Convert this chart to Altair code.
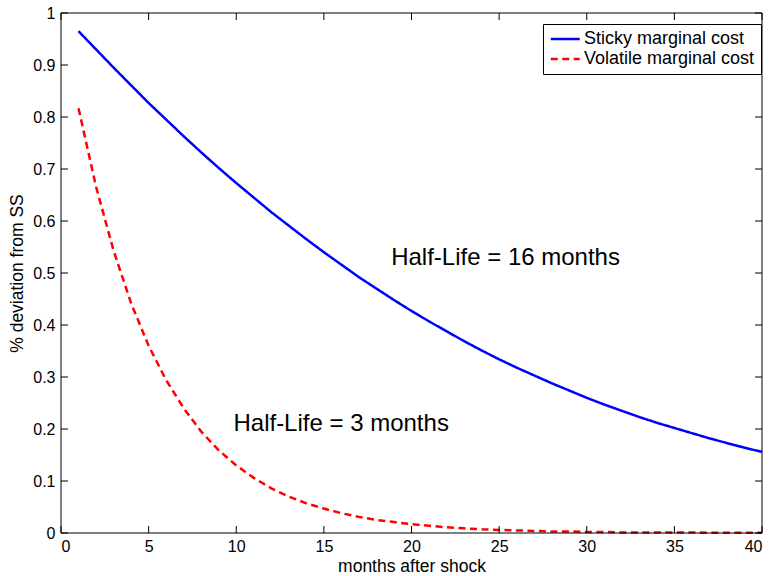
import altair as alt
import pandas as pd

# ---- data ----
months = list(range(1, 41))
sticky = [0.965, 0.930, 0.895, 0.861, 0.827, 0.795, 0.763, 0.732, 0.702, 0.673,
          0.645, 0.617, 0.591, 0.565, 0.540, 0.516, 0.492, 0.470, 0.448, 0.427,
          0.407, 0.388, 0.369, 0.351, 0.334, 0.318, 0.303, 0.288, 0.274, 0.260,
          0.247, 0.235, 0.223, 0.212, 0.202, 0.192, 0.182, 0.173, 0.164, 0.156]
volatile = [0.817, 0.666, 0.543, 0.442, 0.360, 0.294, 0.240, 0.195, 0.159, 0.130,
            0.106, 0.086, 0.070, 0.057, 0.047, 0.038, 0.031, 0.025, 0.021, 0.017,
            0.014, 0.011, 0.009, 0.007, 0.006, 0.005, 0.004, 0.003, 0.003, 0.002,
            0.002, 0.001, 0.001, 0.001, 0.001, 0.001, 0.0005, 0.0004, 0.0003, 0.0003]
series_names = ["Sticky marginal cost", "Volatile marginal cost"]
series_colors = ["#0000ff", "#ff0000"]
x_ticks = [0, 5, 10, 15, 20, 25, 30, 35, 40]
y_ticks = [0, 0.1, 0.2, 0.3, 0.4, 0.5, 0.6, 0.7, 0.8, 0.9, 1]
ann_text = ["Half-Life = 16 months", "Half-Life = 3 months"]
ann_x = [18.84, 9.84]
ann_y = [0.516, 0.197]

df = pd.DataFrame({
    "month": months + months,
    "value": sticky + volatile,
    "series": [series_names[0]] * len(months) + [series_names[1]] * len(months),
})
xt = pd.DataFrame({"month": x_ticks})
yt = pd.DataFrame({"value": y_ticks})
ann = pd.DataFrame({"month": ann_x, "value": ann_y, "label": ann_text})
frame_df = pd.DataFrame({"k": [0]})

W, H = 701, 520
FONT = "Liberation Sans"
TL = 7  # inward tick length

xscale = alt.Scale(domain=[0, 40], nice=False, zero=False)
yscale = alt.Scale(domain=[0, 1], nice=False, zero=False)

axis_common = dict(domain=False, ticks=False, grid=False,
                   labelFontSize=16, titleFontSize=17.5, labelColor="black",
                   titleColor="black", titleFontWeight="normal", labelFont=FONT,
                   titleFont=FONT)
x_axis = alt.Axis(values=x_ticks, title="months after shock", labelPadding=5,
                  titlePadding=3, **axis_common)
y_axis = alt.Axis(values=y_ticks, format=".1~f", title="% deviation from SS",
                  labelPadding=6, titlePadding=6, **axis_common)

X = alt.X("month:Q", scale=xscale, axis=x_axis)
Y = alt.Y("value:Q", scale=yscale, axis=y_axis)

legend_opts = dict(title=None, orient="none", legendX=482, legendY=11,
                   fillColor="white", strokeColor="black",
                   padding=6, symbolType="M-1,0H3", symbolSize=210,
                   symbolStrokeWidth=2.5, labelFontSize=18,
                   labelFont=FONT, labelColor="black",
                   labelOffset=17, rowPadding=2, labelLimit=400)

lines = alt.Chart(df).mark_line(strokeWidth=2.5).encode(
    x=X, y=Y,
    color=alt.Color("series:N",
                    scale=alt.Scale(domain=series_names, range=series_colors),
                    legend=alt.Legend(**legend_opts)),
    strokeDash=alt.StrokeDash("series:N",
                              scale=alt.Scale(domain=series_names, range=[[1, 0], [7, 4.5]]),
                              legend=alt.Legend(**legend_opts)),
)

frame = alt.Chart(frame_df).mark_rect(fill=None, stroke="black", strokeWidth=1).encode(
    x=alt.value(0), x2=alt.value(W), y=alt.value(0), y2=alt.value(H))

bottom_ticks = alt.Chart(xt).mark_rule(color="black", strokeWidth=1).encode(
    x=X, y=alt.value(H), y2=alt.value(H - TL))
top_ticks = alt.Chart(xt).mark_rule(color="black", strokeWidth=1).encode(
    x=X, y=alt.value(0), y2=alt.value(TL))
left_ticks = alt.Chart(yt).mark_rule(color="black", strokeWidth=1).encode(
    y=Y, x=alt.value(0), x2=alt.value(TL))
right_ticks = alt.Chart(yt).mark_rule(color="black", strokeWidth=1).encode(
    y=Y, x=alt.value(W), x2=alt.value(W - TL))

texts = alt.Chart(ann).mark_text(align="left", baseline="alphabetic", fontSize=24,
                                  font=FONT, color="black").encode(
    x=X, y=Y, text="label:N")

chart = alt.layer(lines, frame, bottom_ticks, top_ticks, left_ticks, right_ticks, texts).properties(
    width=W, height=H,
    padding={"left": 61, "top": 13, "right": 12, "bottom": 43},
    autosize=alt.AutoSizeParams(type="none"),
    background="white",
).configure_view(stroke=None)

chart.save("out.html", embed_options={"renderer": "svg", "actions": False})
